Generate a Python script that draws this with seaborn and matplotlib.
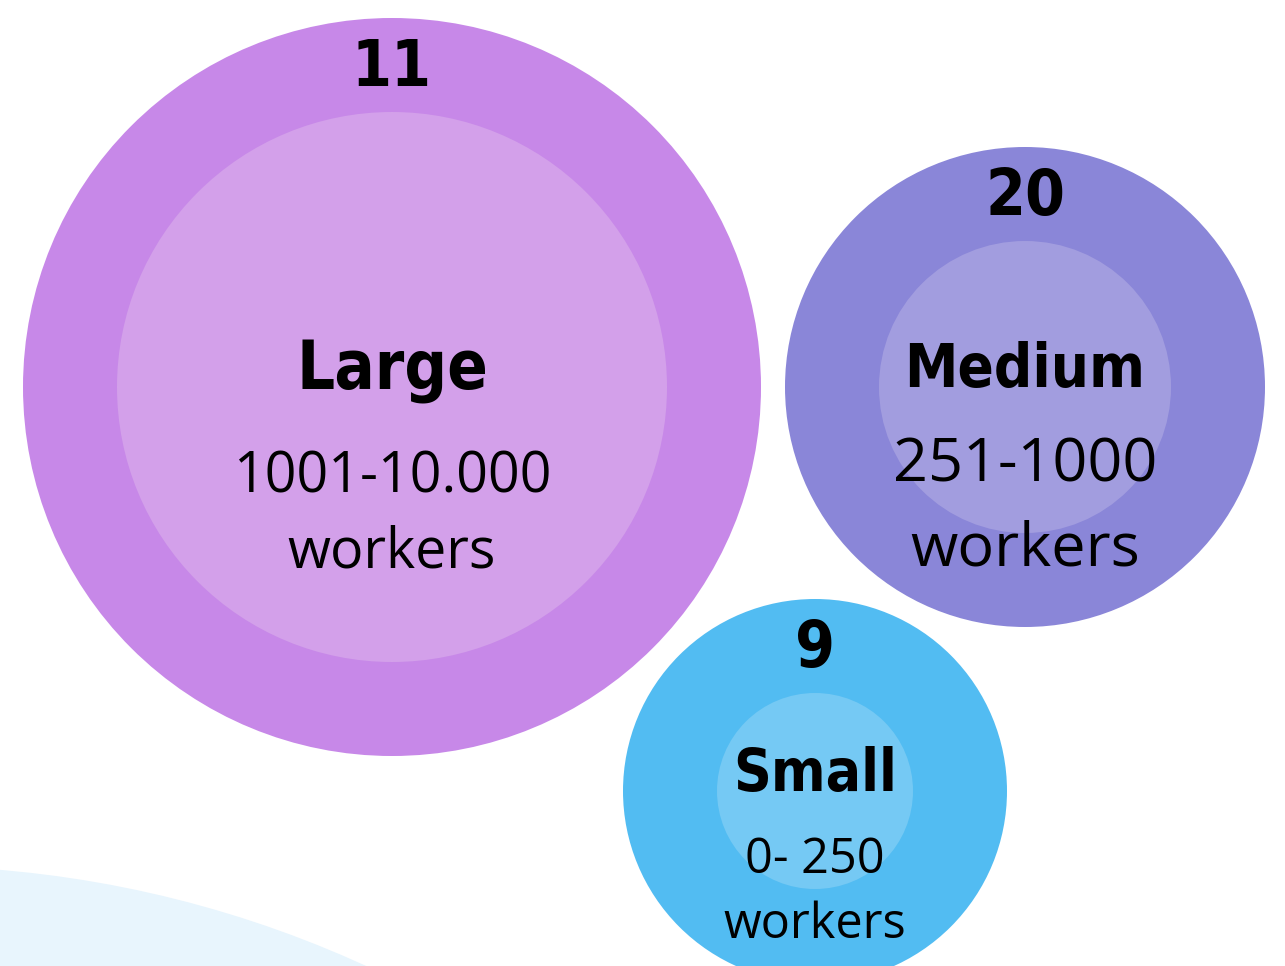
import matplotlib
matplotlib.use('Agg')
import matplotlib.pyplot as plt
import seaborn as sns
from matplotlib.patches import Circle
from matplotlib import font_manager

# data
categories = ['Large', 'Medium', 'Small']
counts = [11, 20, 9]
ranges = ['1001-10.000', '251-1000', '0- 250']
unit = 'workers'

# layout (pixel-like coordinates, y down)
centers_x = [392, 1025, 815]
centers_y = [387, 387, 791]
outer_r = [369, 240, 192]
inner_r = [275, 146, 98]
outer_colors = ['#C788E8', '#8A86D8', '#52BCF2']
inner_colors = ['#D3A0EA', '#A29DDF', '#75C9F4']
title_size = [48, 43, 42]
sub_size = [40, 44, 35]
sub_dy = [91, 78, 69]
unit_dy = [75, 85, 65]


def pick(fams):
    have = {f.name for f in font_manager.fontManager.ttflist}
    out = [f for f in fams if f in have]
    return out + ['DejaVu Sans']


def main():
    sns.set_style('white')
    cond = pick(['Liberation Sans Narrow'])
    body = pick(['Open Sans'])

    fig = plt.figure(figsize=(12.85, 9.66), dpi=100)
    ax = fig.add_axes([0, 0, 1, 1])
    ax.set_xlim(0, 1285)
    ax.set_ylim(966, 0)
    ax.axis('off')

    # pale background arc
    ax.add_patch(Circle((-92, 1966), 1100, color='#E8F5FD', lw=0, zorder=0))

    for i, cat in enumerate(categories):
        cx, cy = centers_x[i], centers_y[i]
        ax.add_patch(Circle((cx, cy), outer_r[i], color=outer_colors[i], lw=0, zorder=1))
        ax.add_patch(Circle((cx, cy), inner_r[i], color=inner_colors[i], lw=0, zorder=2))

        top = cy - outer_r[i]
        ax.text(cx, top + 50, str(counts[i]), ha='center', va='center',
                fontsize=46, fontweight='bold', fontstretch='condensed',
                family=cond, color='black', zorder=3)
        ax.text(cx, cy - 16, cat, ha='center', va='center',
                fontsize=title_size[i], fontweight='bold', fontstretch='condensed',
                family=cond, color='black', zorder=3)
        ax.text(cx, cy + sub_dy[i], ranges[i], ha='center', va='center',
                fontsize=sub_size[i], family=body, color='black', zorder=3)
        ax.text(cx, cy + sub_dy[i] + unit_dy[i], unit, ha='center', va='center',
                fontsize=sub_size[i], family=body, color='black', zorder=3)

    fig.savefig('out.png', dpi=100)
    plt.close(fig)


if __name__ == '__main__':
    main()
